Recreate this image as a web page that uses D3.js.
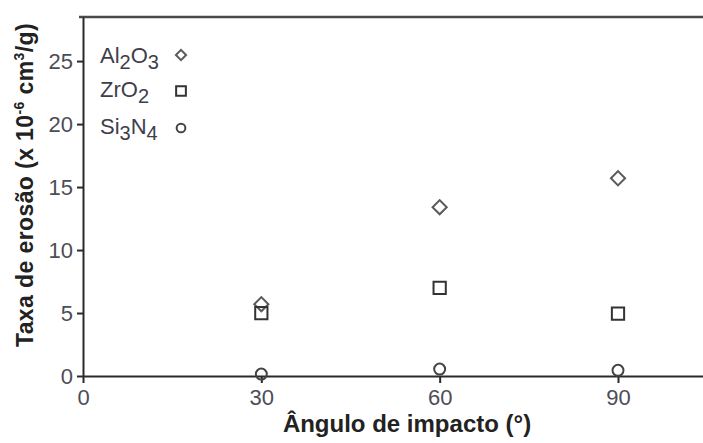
<!DOCTYPE html>
<html>
<head>
<meta charset="utf-8">
<script src="https://cdn.jsdelivr.net/npm/d3@7"></script>
<style>
  html, body { margin: 0; padding: 0; background: #fff; }
  svg { display: block; font-family: Arial, "Liberation Sans", sans-serif; }
</style>
</head>
<body>
<svg id="chart" width="703" height="443"></svg>
<script>
// Erosion rate of three ceramics at three impact angles
const angles = [30, 60, 90];
const al2o3 = [5.7, 13.4, 15.7];
const zro2 = [5.0, 7.0, 4.95];
const si3n4 = [0.15, 0.55, 0.45];
const xTicks = [0, 30, 60, 90];
const yTicks = [0, 5, 10, 15, 20, 25];

(function draw() {
  const svg = d3.select("#chart");
  const W = 703;
  const mLeft = 83, mTop = 17, mBottom = 376;

  const x = d3.scaleLinear().domain([0, 104.3]).range([mLeft, W]);
  const y = d3.scaleLinear().domain([0, 28.5]).range([mBottom, mTop]);

  const axisColor = "#2a2a2a";
  const labelColor = "#4d4d57";

  // top frame line
  svg.append("line")
    .attr("x1", mLeft - 4).attr("x2", W)
    .attr("y1", mTop).attr("y2", mTop)
    .attr("stroke", "#4a4a4a").attr("stroke-width", 2.6);

  // y axis
  const gy = svg.append("g")
    .attr("transform", `translate(${mLeft},0)`)
    .call(d3.axisLeft(y).tickValues(yTicks).tickSize(6).tickSizeOuter(0).tickPadding(4));
  gy.select(".domain").attr("stroke", axisColor).attr("stroke-width", 2);
  gy.selectAll(".tick line").attr("stroke", axisColor).attr("stroke-width", 2);
  gy.selectAll(".tick text")
    .attr("fill", labelColor).attr("font-size", 22)
    .attr("font-family", "Arial, 'Liberation Sans', sans-serif");

  // x axis
  const gx = svg.append("g")
    .attr("transform", `translate(0,${mBottom})`)
    .call(d3.axisBottom(x).tickValues(xTicks).tickSize(7).tickSizeOuter(0).tickPadding(6));
  gx.select(".domain").attr("stroke", axisColor).attr("stroke-width", 2);
  gx.selectAll(".tick line").attr("stroke", axisColor).attr("stroke-width", 2);
  gx.selectAll(".tick text")
    .attr("fill", labelColor).attr("font-size", 22)
    .attr("font-family", "Arial, 'Liberation Sans', sans-serif");

  // axis titles
  svg.append("text")
    .attr("x", 407).attr("y", 432)
    .attr("text-anchor", "middle")
    .attr("font-size", 24).attr("font-weight", "bold")
    .attr("fill", "#222")
    .text("Ângulo de impacto (°)");

  const yt = svg.append("text")
    .attr("transform", "translate(33,185) rotate(-90)")
    .attr("text-anchor", "middle")
    .attr("font-size", 23).attr("font-weight", "bold")
    .attr("letter-spacing", 0.4)
    .attr("fill", "#222");
  yt.append("tspan").text("Taxa de erosão  (x 10");
  yt.append("tspan").attr("font-size", 14).attr("dy", -9).text("-6");
  yt.append("tspan").attr("dy", 9).text(" cm");
  yt.append("tspan").attr("font-size", 14).attr("dy", -9).text("3");
  yt.append("tspan").attr("dy", 9).text("/g)");

  // marker shapes
  const sq = (s) => d3.symbol(d3.symbolSquare, s)();
  const ci = (s) => d3.symbol(d3.symbolCircle, s)();

  const series = [
    { values: al2o3, path: sq(100), legPath: sq(52), rot: 45, color: "#5a5a5a" },
    { values: zro2, path: sq(150), legPath: sq(95), rot: 0, color: "#333" },
    { values: si3n4, path: ci(95), legPath: ci(60), rot: 0, color: "#444" }
  ];

  series.forEach(s => {
    svg.append("g").selectAll("path")
      .data(angles.map((a, i) => [a, s.values[i]]))
      .join("path")
      .attr("d", s.path)
      .attr("transform", d => `translate(${x(d[0])},${y(d[1])}) rotate(${s.rot})`)
      .attr("fill", "none")
      .attr("stroke", s.color)
      .attr("stroke-width", 2);
  });

  // legend
  const legend = [
    { parts: [["Al", 0], ["2", 1], ["O", 0], ["3", 1]], baseline: 63 },
    { parts: [["ZrO", 0], ["2", 1]], baseline: 97 },
    { parts: [["Si", 0], ["3", 1], ["N", 0], ["4", 1]], baseline: 134 }
  ];
  const legMarkY = [55, 91, 128];
  legend.forEach((l, i) => {
    const t = svg.append("text")
      .attr("x", 100).attr("y", l.baseline)
      .attr("font-size", 22).attr("fill", "#3e3e4a");
    let sub = false;
    l.parts.forEach(([txt, isSub]) => {
      const ts = t.append("tspan").text(txt);
      if (isSub && !sub) { ts.attr("font-size", 20).attr("dy", 6); sub = true; }
      else if (!isSub && sub) { ts.attr("dy", -6); sub = false; }
      else if (isSub) ts.attr("font-size", 20);
    });
    const s = series[i];
    svg.append("path")
      .attr("d", s.legPath)
      .attr("transform", `translate(181,${legMarkY[i]}) rotate(${s.rot})`)
      .attr("fill", "none").attr("stroke", s.color).attr("stroke-width", 2);
  });
})();
</script>
</body>
</html>
